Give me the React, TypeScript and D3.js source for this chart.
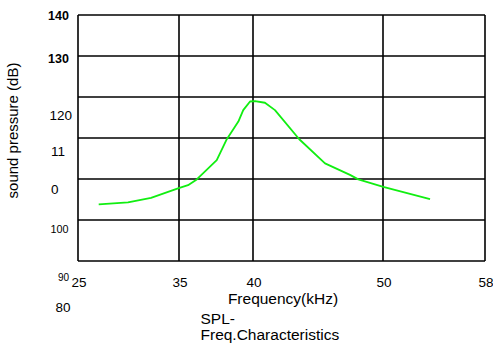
import React from "react";
import * as d3 from "d3";

const freq = [27.05, 29.95, 32.23, 34.9, 35.61, 36.2, 37.55, 38.23, 39.01, 39.34, 39.8, 40.15, 40.92, 41.69, 43.56, 45.54, 47.46, 48.1, 50.02, 53.69];
const spl = [93.8, 94.3, 95.4, 97.7, 98.5, 99.9, 104.6, 109.7, 114.0, 116.8, 118.9, 119.0, 118.6, 116.8, 109.7, 103.8, 101.0, 99.9, 98.1, 95.1];

const xTicks = [25, 35, 40, 50, 58];
const yGrid = [80, 90, 100, 110, 120, 130, 140];
const yTickLabels = ["140", "130", "120", "11", "0", "100", "90", "80"];
const xTitle = "Frequency(kHz)";
const yTitle = "sound pressure (dB)";
const chartTitle = ["SPL-", "Freq.Characteristics"];

const W = 493, H = 347;
const L = 78, R = 485, T = 15, B = 261;

export default function App() {
  const x = d3.scaleLinear().domain([25, 35, 40, 50, 58]).range([L, 179, 253, 383, R]);
  const y = d3.scaleLinear().domain([80, 140]).range([B, T]);
  const line = d3.line<number>().x((_, i) => x(freq[i])).y((d) => y(d));
  const font = "'Liberation Sans', Arial, sans-serif";
  // label placements (x, baseline, size, weight)
  const yLabPos: [number, number, number, string][] = [
    [48, 20, 12.5, "bold"],
    [48, 63, 12.5, "bold"],
    [49.5, 120, 13.5, "normal"],
    [51, 156, 13.5, "normal"],
    [51, 194, 13.5, "normal"],
    [50.5, 233, 10.8, "normal"],
    [58, 281, 10, "normal"],
    [55.5, 312, 13.5, "normal"],
  ];
  return (
    <svg width={W} height={H} style={{ position: "absolute", left: 0, top: 0, background: "#fff" }}>
      <rect x={0} y={0} width={W} height={H} fill="#fff" />
      {yGrid.map((v) => (
        <line key={"h" + v} x1={L} x2={R} y1={y(v)} y2={y(v)} stroke="#000" strokeWidth={1.6} />
      ))}
      {xTicks.map((v) => (
        <line key={"v" + v} x1={x(v)} x2={x(v)} y1={T} y2={B} stroke="#000" strokeWidth={1.6} />
      ))}
      <path d={line(spl) || ""} fill="none" stroke="#11ee11" strokeWidth={1.8} strokeLinejoin="round" />
      {xTicks.map((v) => (
        <text key={"xt" + v} x={x(v) + 1} y={287} fontSize={13.5} fontFamily={font} textAnchor="middle" fill="#000">
          {v}
        </text>
      ))}
      {yTickLabels.map((t, i) => (
        <text key={"yt" + i} x={yLabPos[i][0]} y={yLabPos[i][1]} fontSize={yLabPos[i][2]} fontWeight={yLabPos[i][3]} fontFamily={font} fill="#000">
          {t}
        </text>
      ))}
      <text x={283} y={304} fontSize={15.5} fontFamily={font} textAnchor="middle" fill="#000">{xTitle}</text>
      <text x={200.5} y={324} fontSize={15.5} fontFamily={font} fill="#000">{chartTitle[0]}</text>
      <text x={200.5} y={340} fontSize={15.5} fontFamily={font} fill="#000">{chartTitle[1]}</text>
      <text transform="translate(18,130.5) rotate(-90)" fontSize={15} fontFamily={font} textAnchor="middle" fill="#000">{yTitle}</text>
    </svg>
  );
}
